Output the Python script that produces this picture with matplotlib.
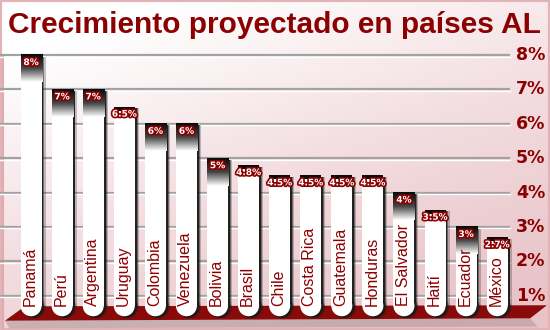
import numpy as np
import matplotlib
matplotlib.use("Agg")
import matplotlib.pyplot as plt
import matplotlib.patheffects as pe
from matplotlib.patches import Rectangle, Ellipse, Polygon
from matplotlib.colors import LinearSegmentedColormap

# data
countries = ['Panamá', 'Perú', 'Argentina', 'Uruguay', 'Colombia', 'Venezuela',
             'Bolivia', 'Brasil', 'Chile', 'Costa Rica', 'Guatemala', 'Honduras',
             'El Salvador', 'Haití', 'Ecuador', 'México']
growth = [8, 7, 7, 6.5, 6, 6, 5, 4.8, 4.5, 4.5, 4.5, 4.5, 4, 3.5, 3, 2.7]
ticks = [1, 2, 3, 4, 5, 6, 7, 8]

DARK_RED = '#8b0000'

fig = plt.figure(figsize=(5.5, 3.3), dpi=100)

# background gradient (white top-left -> pink bottom-right)
bg = fig.add_axes([0, 0, 1, 1])
yy, xx = np.mgrid[0:1:200j, 0:1:300j]
t = np.clip(0.8 * yy + 0.45 * xx - 0.15, 0, 1)
bg_cmap = LinearSegmentedColormap.from_list('bg', ['#ffffff', '#f3dde0', '#e8c3c7'])
bg.imshow(t, cmap=bg_cmap, aspect='auto', extent=[0, 1, 0, 1], origin='upper')
bg.set_axis_off()
bg.add_patch(Rectangle((0, 0), 1, 1, fill=False, ec='#e2b4b8', lw=3, transform=bg.transAxes))
bg.plot([0.005, 0.005], [0.0, 0.83], color='#e0aab0', lw=1.5)

ax = fig.add_axes([0, 0, 1, 1])
ax.patch.set_alpha(0)
n = len(countries)
x = np.arange(n)
ax.set_xlim(-1.0, 16.7)
ax.set_ylim(0, 9.6)
ax.set_axis_off()

# gridlines + right tick labels
for tk in ticks:
    ax.plot([-1.0, 15.42], [tk, tk], color='#a2a2a2', lw=1.6, zorder=1, solid_capstyle='butt')
    ax.plot([-1.0, 15.42], [tk - 0.045, tk - 0.045], color='white', lw=1.0, zorder=1)
    ax.text(15.6, tk, f'{tk}%', color=DARK_RED, fontsize=12.5, fontweight='bold',
            ha='left', va='center', zorder=2)

# base
base = Polygon([(-0.84, 0.27), (-0.2, 0.69), (n + 0.6, 0.72), (n + 0.06, 0.34)],
               closed=True, fc='#8a0a0a', ec='none', zorder=3)
shadow = Polygon([(-0.7, 0.05), (-0.84, 0.27), (n + 0.06, 0.34), (n + 0.3, 0.1)],
                 closed=True, fc='#b09a9c', ec='none', alpha=0.6, zorder=2)
ax.add_patch(shadow)
ax.add_patch(base)

w = 0.676
r_h = w * 31.07 / 34.43
low = 0.4 + r_h / 2
cap_cmap = LinearSegmentedColormap.from_list('cap', ['#0a0a0a', '#444444', '#ffffff'])
grad = np.linspace(0, 1, 64)[:, None]

for xi, v, name in zip(x, growth, countries):
    # soft shadow on the right
    for off, a in [(0.13, 0.25), (0.09, 0.45), (0.06, 0.9)]:
        ax.add_patch(Rectangle((xi - w / 2 + off, low - 0.05), w, v - low, fc='#1a1a1a',
                               ec='none', alpha=a, zorder=4))
        ax.add_patch(Ellipse((xi + off, low - 0.05), w, r_h, fc='#1a1a1a', ec='none',
                             alpha=a, zorder=4))
    # body
    ax.add_patch(Rectangle((xi - w / 2, low), w, v - low, fc='white', ec='none', zorder=5))
    ax.add_patch(Ellipse((xi, low), w, r_h, fc='white', ec='none', zorder=5))
    # dark cap: long gradient on whole numbers, thin band otherwise
    cap = 0.8 if v == round(v) else 0.12
    if v == round(v):
        ax.imshow(grad, cmap=cap_cmap, aspect='auto', zorder=6,
                  extent=[xi - w / 2, xi + w / 2, v - cap, v])
    else:
        ax.add_patch(Rectangle((xi - w / 2, v - cap), w, cap, fc='#0a0a0a', ec='none', zorder=6))
    # value label
    ax.text(xi, v - 0.22, f'{v:g}%', color='white', fontsize=6.5, fontweight='bold',
            ha='center', va='center', zorder=7,
            path_effects=[pe.withStroke(linewidth=2.4, foreground=DARK_RED)])
    # country name
    ax.text(xi - 0.03, 0.7, name, rotation=90, color=DARK_RED, fontsize=11.5,
            family=['Liberation Sans', 'DejaVu Sans'], ha='center', va='bottom', zorder=7)

fig.text(8 / 550, 1 - 25 / 330, 'Crecimiento proyectado en países AL', color=DARK_RED,
         fontsize=21.5, fontweight='bold', family=['Liberation Sans Narrow', 'Liberation Sans'],
         ha='left', va='center')

fig.savefig('out.png', dpi=100)
